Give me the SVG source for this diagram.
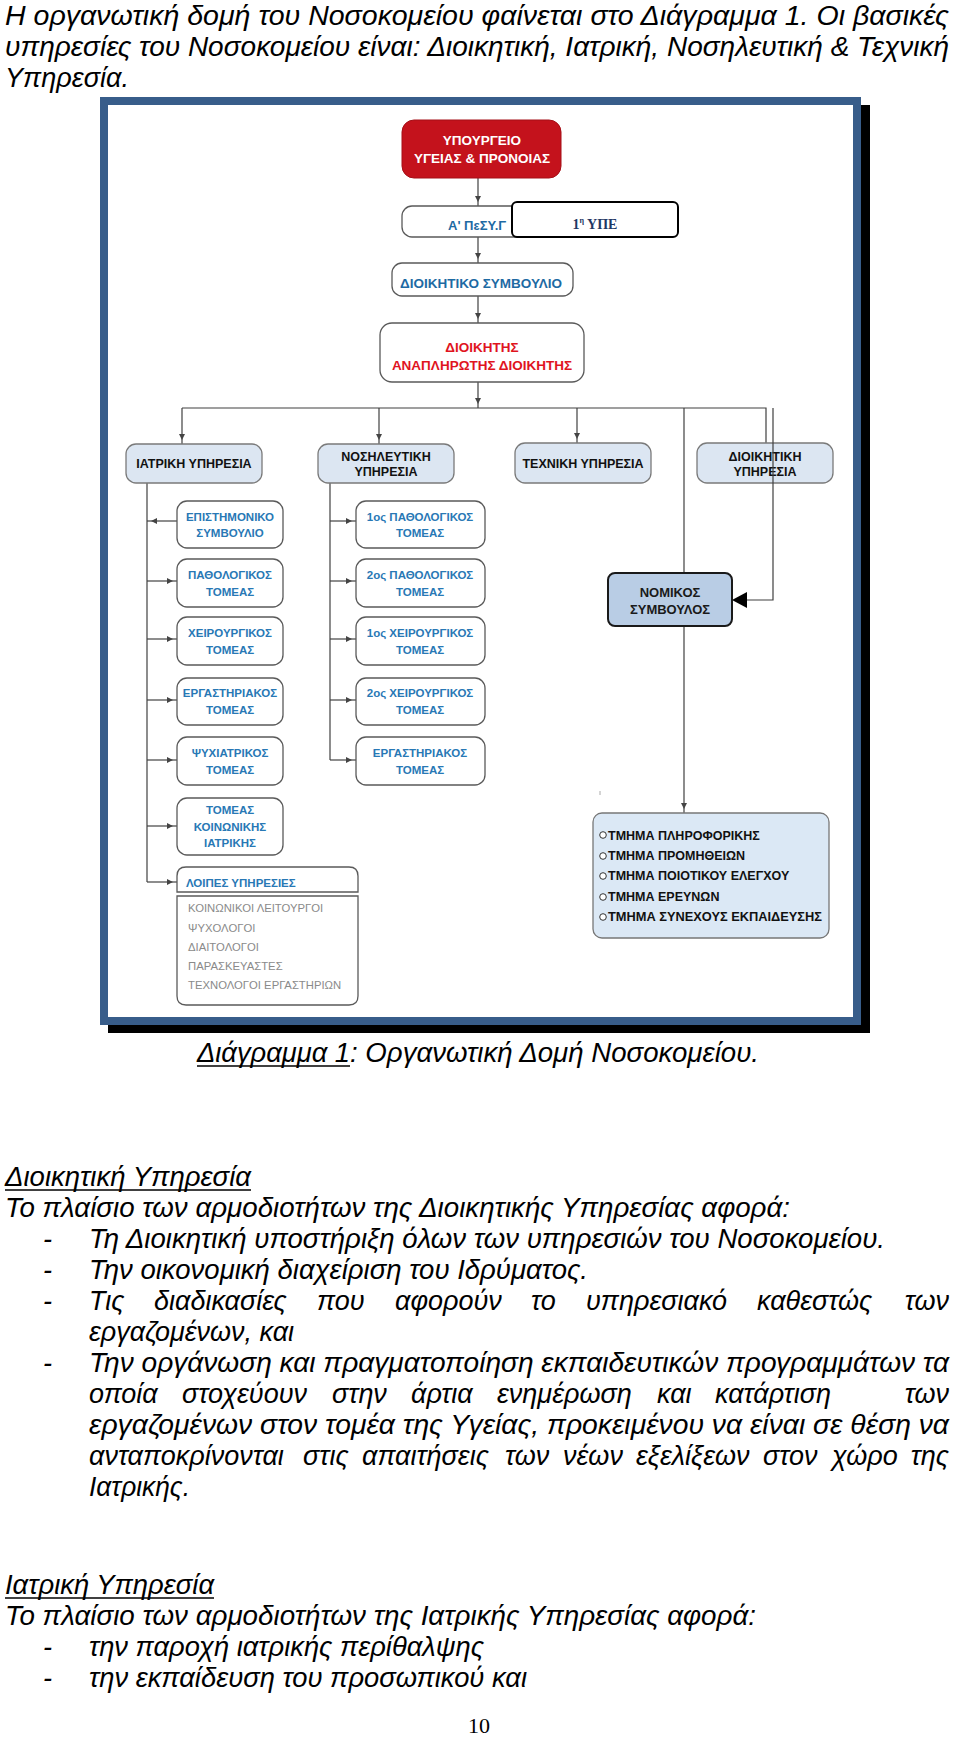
<svg xmlns="http://www.w3.org/2000/svg" width="960" height="1737" viewBox="0 0 960 1737">
<defs>
<style>
.b{font-family:"Liberation Sans",Arial,sans-serif;font-style:italic;font-size:27px;fill:#000}
.e{text-anchor:end}
.c{font-family:"Liberation Sans",Arial,sans-serif;font-weight:bold;text-anchor:middle}
.top{font-size:13.5px}
.col{font-size:11.5px;fill:#2878b5}
.svc{font-size:12.5px;fill:#111}
.wbox{fill:#fff;stroke:#5a5a5a;stroke-width:1.3}
.sbox{fill:#dce6f2;stroke:#7a7a7a;stroke-width:1.3}
.ln{fill:none;stroke:#404040;stroke-width:1.2}
.ul{stroke:#000;stroke-width:1.5}
.gr{font-family:"Liberation Sans",Arial,sans-serif;font-size:11.3px;fill:#8a8a8a}
.li{font-family:"Liberation Sans",Arial,sans-serif;font-weight:bold;font-size:12.5px;fill:#111}
</style>
<marker id="a" markerWidth="12" markerHeight="6" refX="10" refY="3" orient="auto" markerUnits="userSpaceOnUse" overflow="visible">
<path d="M0,0 L6,3 L0,6 z" fill="#444"/>
</marker>
</defs>
<rect width="960" height="1737" fill="#fff"/>

<!-- intro text -->
<g id="intro">
<text class="b" x="5" y="25" textLength="944" lengthAdjust="spacingAndGlyphs">Η οργανωτική δομή του Νοσοκομείου φαίνεται στο Διάγραμμα 1. Οι βασικές</text>
<text class="b" x="5" y="56" textLength="944" lengthAdjust="spacingAndGlyphs">υπηρεσίες του Νοσοκομείου είναι: Διοικητική, Ιατρική, Νοσηλευτική &amp; Τεχνική</text>
<text class="b" x="5" y="87" textLength="124" lengthAdjust="spacingAndGlyphs">Υπηρεσία.</text>
</g>

<!-- frame -->
<g id="frame">
<rect x="108" y="105" width="762" height="928" fill="#000"/>
<rect x="104" y="101" width="753" height="920" fill="#fff" stroke="#385d8a" stroke-width="8"/>
</g>

<!-- connectors -->
<g id="connectors">
<path class="ln" d="M478,178 V206" marker-end="url(#a)"/>
<path class="ln" d="M478,237 V263" marker-end="url(#a)"/>
<path class="ln" d="M478,296 V323" marker-end="url(#a)"/>
<path class="ln" d="M478,382 V408" marker-end="url(#a)"/>
<path class="ln" d="M182,408 H766 V443"/>
<path class="ln" d="M182,408 V444" marker-end="url(#a)"/>
<path class="ln" d="M379,408 V444" marker-end="url(#a)"/>
<path class="ln" d="M577,408 V443" marker-end="url(#a)"/>
<path class="ln" d="M684,408 V573"/>
<path class="ln" d="M684,626 V813" marker-end="url(#a)"/>
<path class="ln" d="M147,483 V882"/>
<path class="ln" d="M177,521 H147" marker-end="url(#a)"/>
<path class="ln" d="M147,581 H177" marker-end="url(#a)"/>
<path class="ln" d="M147,639 H177" marker-end="url(#a)"/>
<path class="ln" d="M147,700 H177" marker-end="url(#a)"/>
<path class="ln" d="M147,760 H177" marker-end="url(#a)"/>
<path class="ln" d="M147,826 H177" marker-end="url(#a)"/>
<path class="ln" d="M147,882 H177" marker-end="url(#a)"/>
<path class="ln" d="M330,483 V760"/>
<path class="ln" d="M330,521 H356" marker-end="url(#a)"/>
<path class="ln" d="M330,581 H356" marker-end="url(#a)"/>
<path class="ln" d="M330,639 H356" marker-end="url(#a)"/>
<path class="ln" d="M330,700 H356" marker-end="url(#a)"/>
<path class="ln" d="M330,760 H356" marker-end="url(#a)"/>
<line x1="600" y1="791" x2="600" y2="795" stroke="#aaa" stroke-width="1"/>
</g>

<!-- top chain -->
<g id="ministry">
<rect x="402" y="120" width="159" height="58" rx="12" fill="#c4121c" stroke="#a50f17" stroke-width="1"/>
<text class="c top" x="482" y="145" fill="#fff">ΥΠΟΥΡΓΕΙΟ</text>
<text class="c top" x="482" y="163" fill="#fff">ΥΓΕΙΑΣ &amp; ΠΡΟΝΟΙΑΣ</text>
</g>
<g id="pesy">
<rect class="wbox" x="402" y="206" width="154" height="31" rx="10"/>
<text class="c" x="448" y="230" font-size="13px" fill="#1e6aa3" style="text-anchor:start">Α' ΠεΣΥ.Γ</text>
</g>
<g id="ype">
<rect x="512" y="202" width="166" height="35" rx="5" fill="#fff" stroke="#000" stroke-width="2"/>
<text x="595" y="229" text-anchor="middle" font-family="'Liberation Serif','Times New Roman',serif" font-weight="bold" font-size="14px" fill="#1f3864">1<tspan font-size="8px" dy="-6">η</tspan><tspan dy="6"> ΥΠΕ</tspan></text>
</g>
<g id="board">
<rect class="wbox" x="392" y="263" width="181" height="33" rx="10"/>
<text class="c top" x="481" y="288" fill="#1e6aa3">ΔΙΟΙΚΗΤΙΚΟ ΣΥΜΒΟΥΛΙΟ</text>
</g>
<g id="director">
<rect class="wbox" x="380" y="323" width="204" height="59" rx="12"/>
<text class="c top" x="482" y="352" fill="#e0141e">ΔΙΟΙΚΗΤΗΣ</text>
<text class="c top" x="482" y="370" fill="#e0141e">ΑΝΑΠΛΗΡΩΤΗΣ ΔΙΟΙΚΗΤΗΣ</text>
</g>

<!-- services -->
<g id="iatriki">
<rect class="sbox" x="126" y="444" width="136" height="39" rx="10"/>
<text class="c svc" x="194" y="468">ΙΑΤΡΙΚΗ ΥΠΗΡΕΣΙΑ</text>
</g>
<g id="nosileftiki">
<rect class="sbox" x="318" y="444" width="136" height="39" rx="10"/>
<text class="c svc" x="386" y="461">ΝΟΣΗΛΕΥΤΙΚΗ</text>
<text class="c svc" x="386" y="476">ΥΠΗΡΕΣΙΑ</text>
</g>
<g id="techniki">
<rect class="sbox" x="515" y="443" width="136" height="40" rx="10"/>
<text class="c svc" x="583" y="468">ΤΕΧΝΙΚΗ ΥΠΗΡΕΣΙΑ</text>
</g>
<g id="dioikitiki">
<rect class="sbox" x="697" y="443" width="136" height="40" rx="10"/>
<text class="c svc" x="765" y="461">ΔΙΟΙΚΗΤΙΚΗ</text>
<text class="c svc" x="765" y="476">ΥΠΗΡΕΣΙΑ</text>
</g>

<g id="connector-nomikos">
<path class="ln" d="M773,408 V600 H746"/>
<polygon points="732,600 747,592 747,608" fill="#000"/>
</g>

<g id="nomikos">
<rect x="608" y="573" width="124" height="53" rx="7" fill="#b9cde5" stroke="#1a1a1a" stroke-width="2"/>
<text class="c" x="670" y="597" font-size="13px" fill="#1a1a1a">ΝΟΜΙΚΟΣ</text>
<text class="c" x="670" y="614" font-size="13px" fill="#1a1a1a">ΣΥΜΒΟΥΛΟΣ</text>
</g>

<!-- iatriki column -->
<g id="epistimoniko">
<rect class="wbox" x="177" y="501" width="106" height="47" rx="10"/>
<text class="c col" x="230" y="521">ΕΠΙΣΤΗΜΟΝΙΚΟ</text>
<text class="c col" x="230" y="537">ΣΥΜΒΟΥΛΙΟ</text>
</g>
<g id="pathologikos">
<rect class="wbox" x="177" y="559" width="106" height="48" rx="10"/>
<text class="c col" x="230" y="579">ΠΑΘΟΛΟΓΙΚΟΣ</text>
<text class="c col" x="230" y="596">ΤΟΜΕΑΣ</text>
</g>
<g id="cheirourgikos">
<rect class="wbox" x="177" y="617" width="106" height="48" rx="10"/>
<text class="c col" x="230" y="637">ΧΕΙΡΟΥΡΓΙΚΟΣ</text>
<text class="c col" x="230" y="654">ΤΟΜΕΑΣ</text>
</g>
<g id="ergastiriakos">
<rect class="wbox" x="177" y="678" width="106" height="47" rx="10"/>
<text class="c col" x="230" y="697">ΕΡΓΑΣΤΗΡΙΑΚΟΣ</text>
<text class="c col" x="230" y="714">ΤΟΜΕΑΣ</text>
</g>
<g id="psychiatrikos">
<rect class="wbox" x="177" y="737" width="106" height="48" rx="10"/>
<text class="c col" x="230" y="757">ΨΥΧΙΑΤΡΙΚΟΣ</text>
<text class="c col" x="230" y="774">ΤΟΜΕΑΣ</text>
</g>
<g id="koinoniki">
<rect class="wbox" x="177" y="798" width="106" height="57" rx="10"/>
<text class="c col" x="230" y="814">ΤΟΜΕΑΣ</text>
<text class="c col" x="230" y="831">ΚΟΙΝΩΝΙΚΗΣ</text>
<text class="c col" x="230" y="847">ΙΑΤΡΙΚΗΣ</text>
</g>
<g id="loipes">
<path class="wbox" d="M177,892 V876 Q177,867 186,867 H349 Q358,867 358,876 V892 Z"/>
<path class="wbox" d="M177,896 H358 V996 Q358,1005 349,1005 H186 Q177,1005 177,996 Z"/>
<text class="c col" x="186" y="887" style="text-anchor:start">ΛΟΙΠΕΣ ΥΠΗΡΕΣΙΕΣ</text>
<text class="gr" x="188" y="912">ΚΟΙΝΩΝΙΚΟΙ ΛΕΙΤΟΥΡΓΟΙ</text>
<text class="gr" x="188" y="932">ΨΥΧΟΛΟΓΟΙ</text>
<text class="gr" x="188" y="951">ΔΙΑΙΤΟΛΟΓΟΙ</text>
<text class="gr" x="188" y="970">ΠΑΡΑΣΚΕΥΑΣΤΕΣ</text>
<text class="gr" x="188" y="989">ΤΕΧΝΟΛΟΓΟΙ ΕΡΓΑΣΤΗΡΙΩΝ</text>
</g>

<!-- nosileftiki column -->
<g id="pathol1">
<rect class="wbox" x="356" y="501" width="129" height="47" rx="10"/>
<text class="c col" x="420" y="521">1ος ΠΑΘΟΛΟΓΙΚΟΣ</text>
<text class="c col" x="420" y="537">ΤΟΜΕΑΣ</text>
</g>
<g id="pathol2">
<rect class="wbox" x="356" y="559" width="129" height="48" rx="10"/>
<text class="c col" x="420" y="579">2ος ΠΑΘΟΛΟΓΙΚΟΣ</text>
<text class="c col" x="420" y="596">ΤΟΜΕΑΣ</text>
</g>
<g id="cheir1">
<rect class="wbox" x="356" y="617" width="129" height="48" rx="10"/>
<text class="c col" x="420" y="637">1ος ΧΕΙΡΟΥΡΓΙΚΟΣ</text>
<text class="c col" x="420" y="654">ΤΟΜΕΑΣ</text>
</g>
<g id="cheir2">
<rect class="wbox" x="356" y="678" width="129" height="47" rx="10"/>
<text class="c col" x="420" y="697">2ος ΧΕΙΡΟΥΡΓΙΚΟΣ</text>
<text class="c col" x="420" y="714">ΤΟΜΕΑΣ</text>
</g>
<g id="ergast2">
<rect class="wbox" x="356" y="737" width="129" height="48" rx="10"/>
<text class="c col" x="420" y="757">ΕΡΓΑΣΤΗΡΙΑΚΟΣ</text>
<text class="c col" x="420" y="774">ΤΟΜΕΑΣ</text>
</g>

<!-- departments list -->
<g id="tmimata">
<rect x="593" y="813" width="236" height="125" rx="9" fill="#dbe8f5" stroke="#777" stroke-width="1.3"/>
<g fill="#fff" stroke="#333" stroke-width="1">
<circle cx="603" cy="835" r="3.3"/>
<circle cx="603" cy="856" r="3.3"/>
<circle cx="603" cy="876" r="3.3"/>
<circle cx="603" cy="897" r="3.3"/>
<circle cx="603" cy="917" r="3.3"/>
</g>
<text class="li" x="608" y="840">ΤΜΗΜΑ ΠΛΗΡΟΦΟΡΙΚΗΣ</text>
<text class="li" x="608" y="860">ΤΜΗΜΑ ΠΡΟΜΗΘΕΙΩΝ</text>
<text class="li" x="608" y="880">ΤΜΗΜΑ ΠΟΙΟΤΙΚΟΥ ΕΛΕΓΧΟΥ</text>
<text class="li" x="608" y="901">ΤΜΗΜΑ ΕΡΕΥΝΩΝ</text>
<text class="li" x="608" y="921" textLength="214" lengthAdjust="spacingAndGlyphs">ΤΜΗΜΑ ΣΥΝΕΧΟΥΣ ΕΚΠΑΙΔΕΥΣΗΣ</text>
</g>

<!-- caption and body text -->
<g id="body">
<text class="b" x="197" y="1062" textLength="153" lengthAdjust="spacingAndGlyphs">Διάγραμμα 1</text>
<line class="ul" x1="197" y1="1066" x2="350" y2="1066"/>
<text class="b" x="350" y="1062" textLength="409" lengthAdjust="spacingAndGlyphs">: Οργανωτική Δομή Νοσοκομείου.</text>

<text class="b" x="5" y="1186" textLength="246" lengthAdjust="spacingAndGlyphs">Διοικητική Υπηρεσία</text>
<line class="ul" x1="5" y1="1190" x2="251" y2="1190"/>
<text class="b" x="5" y="1217" textLength="785" lengthAdjust="spacingAndGlyphs">Το πλαίσιο των αρμοδιοτήτων της Διοικητικής Υπηρεσίας αφορά:</text>
<text class="b" x="43" y="1248">-</text>
<text class="b" x="89" y="1248" textLength="796" lengthAdjust="spacingAndGlyphs">Τη Διοικητική υποστήριξη όλων των υπηρεσιών του Νοσοκομείου.</text>
<text class="b" x="43" y="1279">-</text>
<text class="b" x="89" y="1279" textLength="499" lengthAdjust="spacingAndGlyphs">Την οικονομική διαχείριση του Ιδρύματος.</text>
<text class="b" x="43" y="1310">-</text>
<text class="b" x="89" y="1310">Τις</text>
<text class="b" x="154" y="1310">διαδικασίες</text>
<text class="b" x="317" y="1310">που</text>
<text class="b" x="395" y="1310">αφορούν</text>
<text class="b" x="531" y="1310">το</text>
<text class="b" x="586" y="1310">υπηρεσιακό</text>
<text class="b" x="757" y="1310">καθεστώς</text>
<text class="b e" x="949" y="1310">των</text>
<text class="b" x="89" y="1341" textLength="205" lengthAdjust="spacingAndGlyphs">εργαζομένων, και</text>
<text class="b" x="43" y="1372">-</text>
<text class="b" x="89" y="1372" textLength="860" lengthAdjust="spacingAndGlyphs">Την οργάνωση και πραγματοποίηση εκπαιδευτικών προγραμμάτων τα</text>
<text class="b" x="89" y="1403">οποία</text>
<text class="b" x="182" y="1403">στοχεύουν</text>
<text class="b" x="332" y="1403">στην</text>
<text class="b" x="411" y="1403">άρτια</text>
<text class="b" x="497" y="1403">ενημέρωση</text>
<text class="b" x="657" y="1403">και</text>
<text class="b" x="715" y="1403">κατάρτιση</text>
<text class="b e" x="949" y="1403">των</text>
<text class="b" x="89" y="1434" textLength="860" lengthAdjust="spacingAndGlyphs">εργαζομένων στον τομέα της Υγείας, προκειμένου να είναι σε θέση να</text>
<text class="b" x="89" y="1465">ανταποκρίνονται</text>
<text class="b" x="303" y="1465">στις</text>
<text class="b" x="362" y="1465">απαιτήσεις</text>
<text class="b" x="505" y="1465">των</text>
<text class="b" x="563" y="1465">νέων</text>
<text class="b" x="636" y="1465">εξελίξεων</text>
<text class="b" x="763" y="1465">στον</text>
<text class="b" x="832" y="1465">χώρο</text>
<text class="b e" x="949" y="1465">της</text>
<text class="b" x="89" y="1496" textLength="101" lengthAdjust="spacingAndGlyphs">Ιατρικής.</text>

<text class="b" x="5" y="1594" textLength="209" lengthAdjust="spacingAndGlyphs">Ιατρική Υπηρεσία</text>
<line class="ul" x1="5" y1="1598" x2="214" y2="1598"/>
<text class="b" x="5" y="1625" textLength="751" lengthAdjust="spacingAndGlyphs">Το πλαίσιο των αρμοδιοτήτων της Ιατρικής Υπηρεσίας αφορά:</text>
<text class="b" x="43" y="1656">-</text>
<text class="b" x="89" y="1656" textLength="395" lengthAdjust="spacingAndGlyphs">την παροχή ιατρικής περίθαλψης</text>
<text class="b" x="43" y="1687">-</text>
<text class="b" x="89" y="1687" textLength="438" lengthAdjust="spacingAndGlyphs">την εκπαίδευση του προσωπικού και</text>
<text x="468" y="1733" font-family="'Liberation Serif','Times New Roman',serif" font-size="21px" textLength="22" lengthAdjust="spacingAndGlyphs">10</text>
</g>
</svg>
